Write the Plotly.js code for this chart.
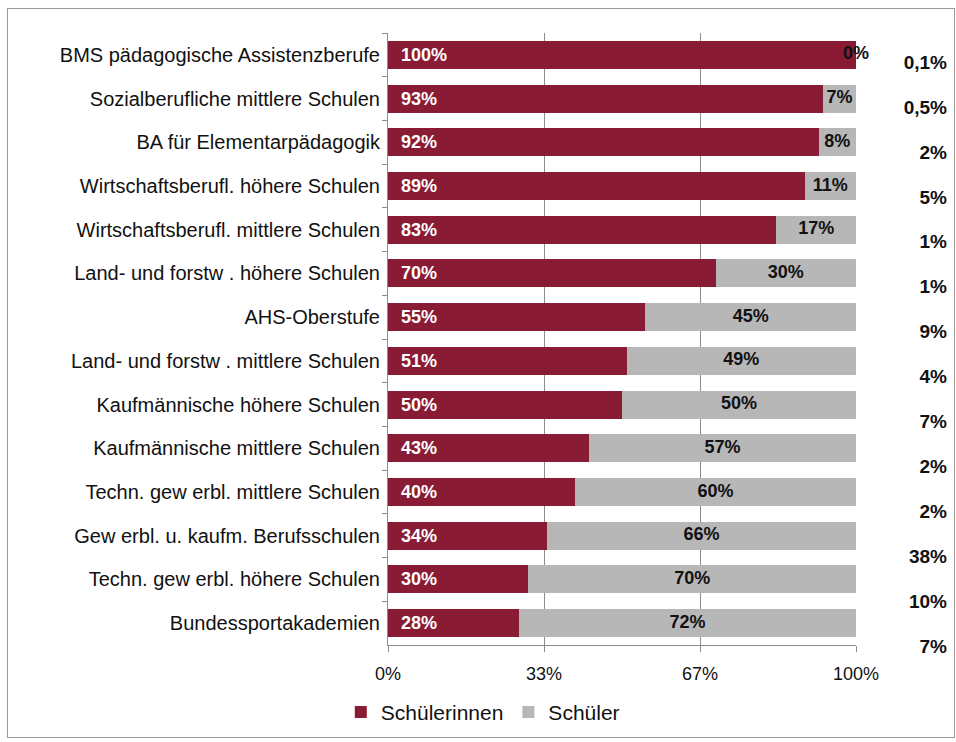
<!DOCTYPE html>
<html>
<head>
<meta charset="utf-8">
<script src="https://cdn.plot.ly/plotly-3.0.1.min.js"></script>
<style>
  html, body { margin: 0; padding: 0; background: #ffffff; }
  #chart { width: 956px; height: 742px; position: absolute; left: 0; top: 0; }
  #frame { position: absolute; left: 7px; top: 8px; width: 946px; height: 728px;
           border: 1px solid #9a9a9a; pointer-events: none; }
</style>
</head>
<body>
<div id="chart"></div>
<div id="frame"></div>
<script>
// ---- data ----
const categories = [
  "BMS pädagogische Assistenzberufe",
  "Sozialberufliche mittlere Schulen",
  "BA für Elementarpädagogik",
  "Wirtschaftsberufl. höhere Schulen",
  "Wirtschaftsberufl. mittlere Schulen",
  "Land- und forstw . höhere Schulen",
  "AHS-Oberstufe",
  "Land- und forstw . mittlere Schulen",
  "Kaufmännische höhere Schulen",
  "Kaufmännische mittlere Schulen",
  "Techn. gew erbl. mittlere Schulen",
  "Gew erbl. u. kaufm. Berufsschulen",
  "Techn. gew erbl. höhere Schulen",
  "Bundessportakademien"
];
const schuelerinnen = [100, 93, 92, 89, 83, 70, 55, 51, 50, 43, 40, 34, 30, 28];
const schueler      = [0, 7, 8, 11, 17, 30, 45, 49, 50, 57, 60, 66, 70, 72];
const anteil        = ["0,1%", "0,5%", "2%", "5%", "1%", "1%", "9%", "4%", "7%", "2%", "2%", "38%", "10%", "7%"];
const tickValues    = [0, 100/3, 200/3, 100];
const tickLabels    = ["0%", "33%", "67%", "100%"];

// ---- styling ----
const FONT = '"Liberation Sans", Arial, sans-serif';
const RED = '#8a1b35';
const GREY = '#b7b7b7';
const AXIS = '#8c8c8c';

const traces = [
  {
    type: 'bar', orientation: 'h', name: 'Schülerinnen',
    y: categories, x: schuelerinnen,
    marker: { color: RED },
    text: schuelerinnen.map(v => '\u00a0\u00a0' + v + '%'),
    textposition: 'inside', insidetextanchor: 'start', textangle: 0,
    constraintext: 'none',
    insidetextfont: { family: FONT, size: 18, color: '#ffffff', weight: 'bold' },
    hoverinfo: 'skip'
  },
  {
    type: 'bar', orientation: 'h', name: 'Schüler',
    y: categories, x: schueler,
    marker: { color: GREY },
    hoverinfo: 'skip'
  },
  {
    type: 'scatter', mode: 'text', showlegend: false,
    y: categories,
    x: schueler.map((v, i) => schuelerinnen[i] + v / 2),
    text: schueler.map(v => v + '%'),
    textposition: 'middle center',
    textfont: { family: FONT, size: 18, color: '#111111', weight: 'bold' },
    cliponaxis: false, hoverinfo: 'skip'
  },
  {
    type: 'scatter', mode: 'text', showlegend: false,
    xaxis: 'x2', yaxis: 'y2',
    y: categories, x: categories.map(() => 1),
    text: anteil,
    textposition: 'middle left',
    textfont: { family: FONT, size: 19, color: '#111111', weight: 'bold' },
    cliponaxis: false, hoverinfo: 'skip'
  }
];

const layout = {
  width: 956, height: 742,
  margin: { l: 388, r: 9, t: 33, b: 62 },
  paper_bgcolor: '#ffffff', plot_bgcolor: '#ffffff',
  barmode: 'stack', bargap: 0.36,
  font: { family: FONT, color: '#111111' },
  showlegend: true,
  legend: {
    orientation: 'h', xref: 'container', yref: 'container',
    x: 0.505, xanchor: 'center', y: 0.04, yanchor: 'middle',
    font: { family: FONT, size: 21, color: '#111111' },
    itemwidth: 30, traceorder: 'normal'
  },
  xaxis: {
    domain: [0, 468 / 559], range: [0, 100],
    tickvals: tickValues, ticktext: tickLabels,
    tickfont: { family: FONT, size: 18, color: '#111111' },
    showgrid: true, gridcolor: AXIS, gridwidth: 1,
    zeroline: false,
    showline: true, linecolor: AXIS, linewidth: 1,
    ticks: 'outside', ticklen: 6, tickcolor: AXIS,
    ticklabelstandoff: 6,
    fixedrange: true
  },
  yaxis: {
    domain: [(680 - 645) / 647, 1],
    type: 'category', categoryorder: 'array', categoryarray: categories,
    range: [13.5, -0.5],
    tickfont: { family: FONT, size: 20, color: '#111111' },
    showline: true, linecolor: AXIS, linewidth: 1,
    ticks: 'outside', ticklen: 5, tickcolor: AXIS, tickson: 'boundaries',
    ticklabelstandoff: 3,
    showgrid: false, fixedrange: true
  },
  xaxis2: {
    domain: [0.88, 1], range: [0, 1], anchor: 'y2',
    visible: false, fixedrange: true
  },
  yaxis2: {
    domain: [(680 - 670.5) / 647, (680 - 41.5) / 647], anchor: 'x2',
    type: 'category', categoryorder: 'array', categoryarray: categories,
    range: [13.5, -0.5], visible: false, fixedrange: true
  }
};

Plotly.newPlot('chart', traces, layout, { displayModeBar: false, staticPlot: true });
</script>
</body>
</html>
